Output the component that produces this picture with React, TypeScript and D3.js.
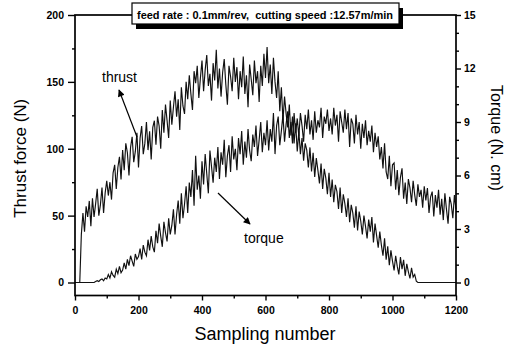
import React, { useEffect, useRef } from "react";
import * as d3 from "d3";

// one value every 5 samples
const sampleStep = 5;

const thrustForce = [
  0, 0, 0, 0, 36,
  52, 38, 57, 49, 61, 42,
  63, 49, 59, 70, 50, 58, 71, 52, 67, 76,
  65, 75, 62, 82, 88, 70, 86, 94, 77, 99,
  84, 104, 97, 80, 101, 109, 90, 98, 112, 86,
  108, 117, 96, 104, 120, 99, 113, 92, 116, 121,
  103, 124, 117, 100, 129, 112, 133, 121, 108, 136,
  118, 131, 143, 124, 137, 114, 146, 132, 126, 150,
  137, 155, 141, 129, 158, 149, 162, 138, 153, 166,
  143, 159, 170, 147, 156, 136, 164, 151, 174, 145,
  160, 139, 157, 167, 148, 133, 162, 154, 143, 168,
  150, 161, 137, 158, 146, 169, 141, 155, 131, 163,
  152, 140, 166, 149, 158, 135, 162, 147, 171, 153,
  176, 149, 163, 141, 168, 150, 138, 158, 128, 146,
  121, 139, 126, 116, 133, 110, 124, 104, 119, 98,
  113, 96, 108, 91, 104, 99, 86, 101, 83, 97,
  79, 93, 84, 74, 89, 70, 85, 78, 66, 82,
  64, 77, 60, 73, 68, 55, 71, 52, 66, 59,
  49, 63, 45, 58, 52, 41, 57, 39, 53, 46,
  36, 50, 42, 33, 47, 38, 49, 30, 44, 35,
  26, 38, 28, 20, 33, 17, 27, 13, 24, 16,
  9, 20, 12, 6, 19, 10, 17, 5, 14, 8,
  3, 11, 4, 6, 1, 0, 0, 0, 0, 0,
  0, 0, 0, 0, 0, 0, 0, 0, 0, 0,
  0, 0, 0, 0, 0, 0, 0, 0, 0, 0,
];

const torque = [
  0, 0, 0, 0, 0, 0, 0, 0, 0, 0, 0, 0, 0,
  0.05, 0.1, 0.05, 0.15, 0.2, 0.1, 0.25, 0.2,
  0.45, 0.25, 0.6, 0.4, 0.3, 0.75, 0.5, 0.9, 0.55, 0.7,
  1.1, 0.75, 1.3, 0.95, 1.5, 1.2, 0.9, 1.6, 1.3, 1.45,
  1.9, 1.3, 2.1, 1.7, 1.5, 2.4, 1.8, 2.6, 2.0, 1.7,
  2.9, 2.2, 3.3, 2.6, 2.0, 3.4, 2.8, 2.3, 3.6, 2.7,
  3.2, 4.1, 2.7, 3.8, 4.6, 3.3, 5.0, 3.6, 4.4, 5.4,
  3.9, 5.6, 4.8, 6.3, 4.3, 7.1, 5.2, 6.0, 4.7, 6.8,
  5.5, 7.2, 6.1, 5.0, 7.4, 6.5, 5.6, 7.0, 6.2, 7.6,
  5.8, 7.3, 6.6, 8.0, 5.9, 7.1, 7.7, 6.2, 8.2, 6.9,
  7.5, 6.3, 8.1, 7.2, 8.5, 6.6, 7.9, 7.0, 8.6, 7.4,
  6.8, 8.3, 7.6, 8.8, 7.1, 8.0, 9.0, 7.3, 8.4, 7.7,
  9.1, 7.4, 8.6, 7.9, 9.5, 7.2, 8.8, 9.3, 7.7, 8.5,
  9.4, 7.9, 8.9, 9.6, 8.1, 9.0, 7.8, 9.5, 8.4, 9.2,
  8.2, 9.5, 8.8, 7.9, 9.4, 8.6, 9.7, 8.3, 9.1, 8.0,
  9.6, 8.4, 9.1, 8.7, 9.8, 8.1, 9.3, 8.9, 9.7, 8.5,
  9.2, 8.3, 9.8, 8.8, 9.4, 7.9, 9.6, 9.0, 8.4, 9.7,
  8.6, 9.5, 7.6, 9.2, 8.9, 7.8, 9.4, 8.3, 9.0, 7.5,
  8.9, 8.1, 9.1, 7.7, 8.5, 7.9, 8.8, 7.3, 8.4, 7.6,
  8.2, 6.9, 7.6, 6.4, 7.8, 6.2, 5.8, 7.1, 5.4, 6.6,
  6.7, 5.2, 6.3, 4.9, 5.9, 6.4, 4.7, 5.6, 4.4, 5.8,
  5.3, 4.5, 5.7, 4.9, 4.3, 5.5, 4.8, 5.2, 4.2, 5.4,
  4.6, 5.3, 3.9, 4.8, 5.1, 3.7, 4.9, 4.2, 5.2, 3.8,
  4.7, 3.5, 5.0, 4.1, 3.3, 4.8, 4.4, 3.6, 4.9, 4.1,
];

const sampleTicks = [0, 200, 400, 600, 800, 1000, 1200];
const sampleMinorTicks = [100, 300, 500, 700, 900, 1100];
const thrustTicks = [0, 50, 100, 150, 200];
const thrustMinorTicks = [25, 75, 125, 175];
const torqueTicks = [0, 3, 6, 9, 12, 15];
const torqueMinorTicks = [1, 2, 4, 5, 7, 8, 10, 11, 13, 14];
const caption = "feed rate : 0.1mm/rev,  cutting speed :12.57m/min";

const font = "'Liberation Sans', Arial, sans-serif";

const App = () => {
  const svgRef = useRef(null);

  useEffect(() => {
    const svg = d3.select(svgRef.current);
    svg.selectAll("*").remove();

    const left = 75;
    const right = 456;
    const top = 15;
    const zeroY = 282.5;
    const bottom = 295.5;

    const x = d3.scaleLinear().domain([0, 1200]).range([left, right]);
    const yThrust = d3.scaleLinear().domain([0, 200]).range([zeroY, top]);
    const yTorque = d3.scaleLinear().domain([0, 15]).range([zeroY, top]);

    const defs = svg.append("defs");
    defs
      .append("marker")
      .attr("id", "head")
      .attr("viewBox", "0 0 10 10")
      .attr("refX", 9)
      .attr("refY", 5)
      .attr("markerWidth", 9)
      .attr("markerHeight", 7)
      .attr("markerUnits", "userSpaceOnUse")
      .attr("orient", "auto")
      .append("path")
      .attr("d", "M0,0 L10,5 L0,10 Z")
      .attr("fill", "#000");

    // curves
    const thrustLine = d3
      .line()
      .x((d, i) => x(i * sampleStep))
      .y((d) => yThrust(d));
    const torqueLine = d3
      .line()
      .x((d, i) => x(i * sampleStep))
      .y((d) => yTorque(d));

    svg
      .append("path")
      .datum(torque)
      .attr("d", torqueLine)
      .attr("fill", "none")
      .attr("stroke", "#111")
      .attr("stroke-width", 1.15);

    svg
      .append("path")
      .datum(thrustForce)
      .attr("d", thrustLine)
      .attr("fill", "none")
      .attr("stroke", "#111")
      .attr("stroke-width", 1.15);

    // frame
    svg
      .append("rect")
      .attr("x", left)
      .attr("y", top)
      .attr("width", right - left)
      .attr("height", bottom - top)
      .attr("fill", "none")
      .attr("stroke", "#000")
      .attr("stroke-width", 1.7);

    // axes
    const styleAxis = (g) => {
      g.select(".domain").remove();
      g.selectAll("line").attr("stroke", "#000").attr("stroke-width", 1.4);
      g.selectAll("text")
        .attr("font-family", font)
        .attr("font-weight", "bold")
        .attr("font-size", 10.5)
        .attr("fill", "#000");
    };
    const plain = d3.format("d");

    svg
      .append("g")
      .attr("transform", `translate(0,${bottom})`)
      .call(
        d3.axisBottom(x).tickValues(sampleTicks).tickFormat(plain).tickSize(5).tickSizeOuter(0).tickPadding(6)
      )
      .call(styleAxis);
    svg
      .append("g")
      .attr("transform", `translate(0,${bottom})`)
      .call(d3.axisBottom(x).tickValues(sampleMinorTicks).tickSize(3).tickFormat(() => ""))
      .call(styleAxis);

    svg
      .append("g")
      .attr("transform", `translate(${left},0)`)
      .call(d3.axisLeft(yThrust).tickValues(thrustTicks).tickSize(7).tickSizeOuter(0).tickPadding(4))
      .call(styleAxis);
    svg
      .append("g")
      .attr("transform", `translate(${left},0)`)
      .call(d3.axisLeft(yThrust).tickValues(thrustMinorTicks).tickSize(3).tickFormat(() => ""))
      .call(styleAxis);

    svg
      .append("g")
      .attr("transform", `translate(${right},0)`)
      .call(d3.axisRight(yTorque).tickValues(torqueTicks).tickSize(5).tickSizeOuter(0).tickPadding(3))
      .call(styleAxis);
    svg
      .append("g")
      .attr("transform", `translate(${right},0)`)
      .call(d3.axisRight(yTorque).tickValues(torqueMinorTicks).tickSize(3).tickFormat(() => ""))
      .call(styleAxis);

    // axis titles
    svg
      .append("text")
      .attr("transform", `translate(26,${(top + bottom) / 2 + 3}) rotate(-90)`)
      .attr("text-anchor", "middle")
      .attr("font-family", font)
      .attr("font-size", 17)
      .text("Thrust force (N)");

    svg
      .append("text")
      .attr("x", 265)
      .attr("y", 340)
      .attr("text-anchor", "middle")
      .attr("font-family", font)
      .attr("font-size", 18)
      .text("Sampling number");

    svg
      .append("text")
      .attr("transform", `translate(491,138) rotate(90)`)
      .attr("text-anchor", "middle")
      .attr("font-family", font)
      .attr("font-size", 16)
      .text("Torque (N. cm)");

    // caption box with shadow
    const box = { x: 132, y: 3, w: 267, h: 21 };
    svg
      .append("rect")
      .attr("x", box.x + 4)
      .attr("y", box.y + 5)
      .attr("width", box.w)
      .attr("height", box.h)
      .attr("fill", "#000");
    svg
      .append("rect")
      .attr("x", box.x)
      .attr("y", box.y)
      .attr("width", box.w)
      .attr("height", box.h)
      .attr("fill", "#fff")
      .attr("stroke", "#000")
      .attr("stroke-width", 1.2);
    svg
      .append("text")
      .attr("x", 137)
      .attr("y", 19)
      .attr("textLength", 256)
      .attr("lengthAdjust", "spacingAndGlyphs")
      .attr("font-family", font)
      .attr("font-weight", "bold")
      .attr("font-size", 10.5)
      .style("white-space", "pre")
      .text(caption);

    // annotations
    svg
      .append("text")
      .attr("x", 102)
      .attr("y", 82)
      .attr("font-family", font)
      .attr("font-size", 14)
      .text("thrust");
    svg
      .append("line")
      .attr("x1", 137)
      .attr("y1", 137)
      .attr("x2", 119)
      .attr("y2", 90)
      .attr("stroke", "#000")
      .attr("stroke-width", 1.2)
      .attr("marker-end", "url(#head)");

    svg
      .append("text")
      .attr("x", 244)
      .attr("y", 243)
      .attr("font-family", font)
      .attr("font-size", 14)
      .text("torque");
    svg
      .append("line")
      .attr("x1", 218)
      .attr("y1", 193)
      .attr("x2", 250)
      .attr("y2", 224)
      .attr("stroke", "#000")
      .attr("stroke-width", 1.2)
      .attr("marker-end", "url(#head)");

    return () => {
      svg.selectAll("*").remove();
    };
  }, []);

  return (
    <svg
      ref={svgRef}
      width={512}
      height={348}
      style={{ position: "absolute", left: 0, top: 0, background: "#fff" }}
    />
  );
};

export default App;
